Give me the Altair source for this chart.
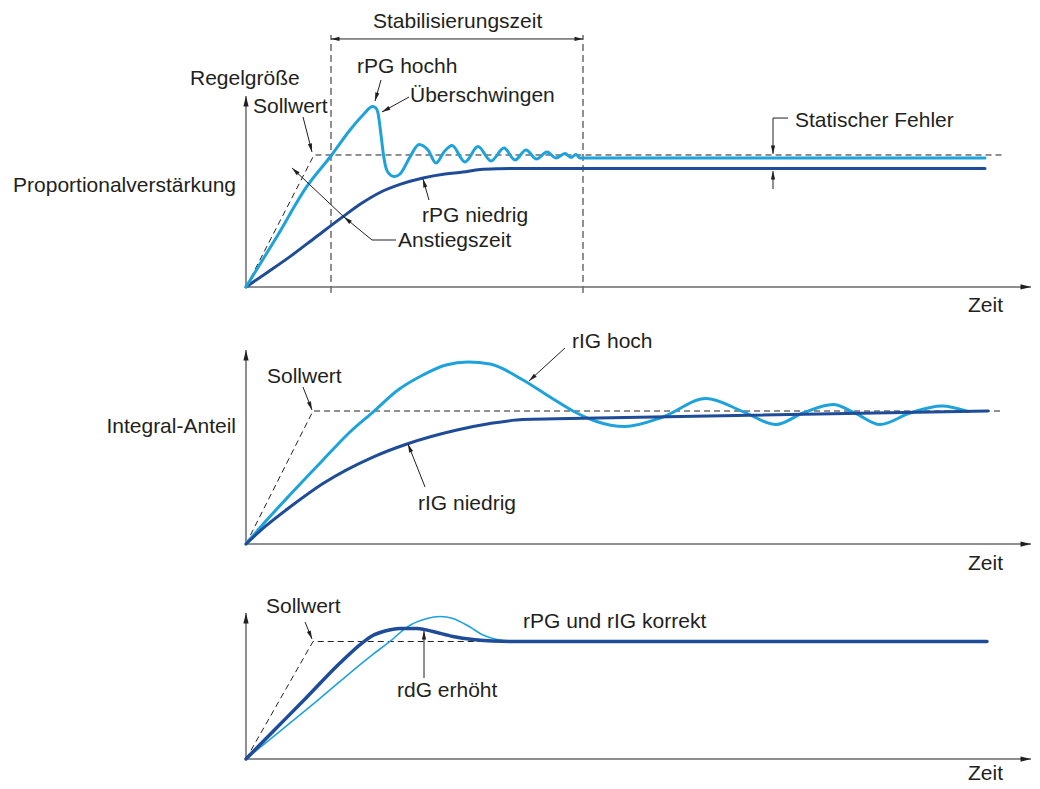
import math
import altair as alt
import pandas as pd

# ---------------- data (time: arbitrary units, value: % of setpoint) ----------------
# Panel 1 - Proportionalverstärkung
p1_high_t = [0, 3.07, 6.07, 8.57, 10.4, 11.7, 12.67, 13.0, 13.2, 13.5, 13.75, 14.07, 14.5, 14.9, 15.4,
             16.4, 17.3, 18.2, 19.0, 19.8, 20.6, 21.9, 23.2, 24.5, 25.8, 26.9, 28.0, 29.05, 30.1,
             31.0, 31.9, 32.5, 33.0, 33.4, 73.9]
p1_high_v = [0, 37.9, 76.0, 100, 118.9, 130.3, 136.7, 135.6, 131.8, 115.2, 100, 88.6, 84.5, 83.7, 85.6,
             98.5, 108, 103.8, 93.9, 102.3, 107.2, 94.7, 106.4, 95.5, 105.3, 96.2, 103.8, 97, 102.3,
             97.7, 101.1, 98.1, 100.4, 97.7, 97.7]
p1_low_t = [0, 2.2, 4.4, 7.0, 9.7, 11.6, 13.4, 15.4, 17.7, 19.9, 21.7, 23.4, 25.4, 27.4, 73.9]
p1_low_v = [0, 11.4, 23.0, 37.9, 53.3, 63.6, 71.6, 77.7, 82.6, 85.6, 87.1, 89.0, 89.6, 89.8, 89.8]
p1_set_t = [0, 6.8, 75.6]
p1_set_v = [0, 100, 100]
p1_stab_t = [8.5, 33.7]
p1_stab_v = [-4.5, 190.9]

# Panel 2 - Integral-Anteil
p2_high_t = [0, 1.9, 4.4, 7.7, 10.4, 12.7, 15.2, 17.7, 20.0, 22.2, 24.4, 27.7, 30.4, 32.7, 34.9,
             37.9, 41.7, 46.0, 49.7, 53.0, 55.7, 58.7, 60.9, 63.4, 66.4, 69.6, 72.2]
p2_high_v = [0, 16.5, 37.0, 63.2, 84.2, 99.2, 115.8, 127.1, 134.6, 136.8, 135.3, 123.3, 110.5, 100, 92.5,
             88.3, 95.5, 109.4, 99.6, 89.8, 98.5, 104.9, 98.5, 89.8, 98.5, 103.8, 99.6]
p2_low_t = [0, 1.9, 4.4, 7.7, 12.7, 16.1, 21.1, 24.4, 27.7, 31.0, 74.2]
p2_low_v = [0, 13.0, 27.8, 45.5, 65.4, 75.2, 85.7, 90.6, 93.6, 94.1, 100]
p2_set_t = [0, 6.7, 75.7]
p2_set_v = [0, 100, 100]

# Panel 3 - rdG erhöht
p3_light_t = [0, 7.2, 12.6, 14.4, 16.1, 18.1, 19.4, 20.7, 22.4, 23.7, 25.1, 26.4, 28.4, 74.1]
p3_light_v = [0, 50.2, 88.5, 100, 112.3, 119.6, 121.3, 119.6, 112.3, 105.5, 101.7, 100.4, 100, 100]
p3_dark_t = [0, 2.7, 6.1, 9.4, 11.6, 12.6, 13.9, 15.4, 17.1, 18.7, 20.7, 22.7, 24.7, 27.4, 74.1]
p3_dark_v = [0, 23.4, 52.8, 81.7, 98.7, 104.7, 108.9, 111.1, 111.1, 108.5, 104.3, 101.7, 100.4, 100, 100]
p3_set_t = [0, 6.7, 74.0]
p3_set_v = [0, 100, 100]

# axes (arrow tips)
p1_axis_top = 144.7
p2_axis_top = 145.9
p3_axis_top = 124.3
axis_right = 78.5

# annotation texts
p1_labels = ["Stabilisierungszeit", "Regelgröße", "Sollwert", "rPG hochh", "Überschwingen",
             "rPG niedrig", "Anstiegszeit", "Zeit", "Statischer Fehler"]
p1_label_t = [12.7, -5.6, 0.7, 11.1, 16.4, 17.6, 15.2, 72.2, 54.9]
p1_label_v = [196.2, 153.0, 131.8, 162.1, 140.2, 49.2, 30.3, -18.9, 121.2]
p1_side = ["Proportionalverstärkung"]
p1_side_t = [-1.0]
p1_side_v = [72.0]

p2_labels = ["Sollwert", "rIG hoch", "rIG niedrig", "Zeit"]
p2_label_t = [2.1, 32.6, 17.2, 72.2]
p2_label_v = [121.1, 147.4, 25.6, -19.5]
p2_side = ["Integral-Anteil"]
p2_side_t = [-1.0]
p2_side_v = [83.5]

p3_labels = ["Sollwert", "rPG und rIG korrekt", "rdG erhöht", "Zeit"]
p3_label_t = [2.0, 27.7, 15.1, 72.2]
p3_label_v = [124.3, 111.5, 52.8, -17.9]

# leader lines ending in an arrow head (start -> tip)
p1_arr_t1 = [5.7, 13.5, 16.3, 18.3, 12.6, 9.8, 21.1, 21.1, 52.7, 52.7]
p1_arr_v1 = [128.8, 156.8, 143.9, 65.9, 35.6, 53.0, 187.9, 187.9, 128.0, 74.2]
p1_arr_t2 = [6.6, 12.9, 13.6, 17.7, 9.8, 4.6, 8.5, 33.7, 52.7, 52.7]
p1_arr_v2 = [102.3, 140.9, 132.6, 81.8, 53.0, 90.2, 187.9, 187.9, 100.8, 87.9]
# plain leader lines
p1_seg_t1 = [15.0, 54.2]
p1_seg_v1 = [35.6, 128.0]
p1_seg_t2 = [12.6, 52.7]
p1_seg_v2 = [35.6, 128.0]

p2_arr_t1 = [5.7, 31.9, 17.9]
p2_arr_v1 = [118.0, 147.4, 42.9]
p2_arr_t2 = [6.6, 28.3, 16.2]
p2_arr_v2 = [100.8, 122.6, 75.2]

p3_arr_t1 = [5.9, 17.8]
p3_arr_v1 = [116.6, 68.9]
p3_arr_t2 = [6.6, 17.8]
p3_arr_v2 = [102.1, 108.9]

# ---------------- layout / style ----------------
W = 1024
XDOM = [-23.8, 78.6]
KX = W / (XDOM[1] - XDOM[0])
FONT = "Liberation Sans"
LIGHT = "#1ea2dc"
DARK = "#1f4c98"
INK = "#231f20"
AXISC = "#6a6a6a"
HEAD = "M0,0L0.5,2L-0.5,2Z"


def enc(xs, ys, xf="t", yf="v"):
    return dict(x=alt.X(f"{xf}:Q", scale=xs, axis=None), y=alt.Y(f"{yf}:Q", scale=ys, axis=None))


def curve(t, v, color, width, xs, ys, dash=None):
    df = pd.DataFrame({"t": t, "v": v, "o": list(range(len(t)))})
    kw = dict(color=color, strokeWidth=width, interpolate="monotone", strokeCap="round", strokeJoin="round")
    if dash:
        kw = dict(color=color, strokeWidth=width, strokeDash=dash, interpolate="linear")
    return alt.Chart(df).mark_line(**kw).encode(order="o:Q", **enc(xs, ys))


def segs(t1, v1, t2, v2, color, width, xs, ys, dash=None):
    df = pd.DataFrame({"t1": t1, "v1": v1, "t2": t2, "v2": v2})
    kw = dict(color=color, strokeWidth=width)
    if dash:
        kw["strokeDash"] = dash
    return alt.Chart(df).mark_rule(**kw).encode(x2="t2:Q", y2="v2:Q", **enc(xs, ys, "t1", "v1"))


def heads(t1, v1, t2, v2, size, ky, xs, ys):
    ang = [math.degrees(math.atan2((b - a) * KX, (d - c) * ky)) % 360
           for a, b, c, d in zip(t1, t2, v1, v2)]
    df = pd.DataFrame({"t": t2, "v": v2, "ang": ang})
    return alt.Chart(df).mark_point(shape=HEAD, filled=True, size=size, color=INK, opacity=1,
                                    strokeWidth=0).encode(angle=alt.Angle("ang:Q", scale=None), **enc(xs, ys))


def texts(labels, t, v, xs, ys, align="left"):
    df = pd.DataFrame({"label": labels, "t": t, "v": v})
    return alt.Chart(df).mark_text(align=align, baseline="alphabetic", font=FONT, fontSize=21,
                                   color=INK).encode(text="label:N", **enc(xs, ys))


def axes(top, ky, xs, ys):
    t1 = [0, 0]
    v1 = [0, 0]
    t2 = [0, axis_right]
    v2 = [top, 0]
    return [segs(t1, v1, t2, v2, AXISC, 1.5, xs, ys), heads(t1, v1, t2, v2, 110, ky, xs, ys)]


def panel(ydom, height, layers_fn):
    xs = alt.Scale(domain=XDOM, nice=False, zero=False)
    ys = alt.Scale(domain=ydom, nice=False, zero=False)
    ky = height / (ydom[1] - ydom[0])
    return alt.layer(*layers_fn(xs, ys, ky)).properties(width=W, height=height)


def p1_layers(xs, ys, ky):
    return [
        curve(p1_set_t, p1_set_v, INK, 1, xs, ys, dash=[6, 4]),
        segs(p1_stab_t, [p1_stab_v[0]] * 2, p1_stab_t, [p1_stab_v[1]] * 2, INK, 1, xs, ys, dash=[7, 4]),
        *axes(p1_axis_top, ky, xs, ys),
        curve(p1_low_t, p1_low_v, DARK, 3, xs, ys),
        curve(p1_high_t, p1_high_v, LIGHT, 3, xs, ys),
        segs(p1_seg_t1, p1_seg_v1, p1_seg_t2, p1_seg_v2, INK, 1, xs, ys),
        segs(p1_arr_t1, p1_arr_v1, p1_arr_t2, p1_arr_v2, INK, 1, xs, ys),
        heads(p1_arr_t1, p1_arr_v1, p1_arr_t2, p1_arr_v2, 72, ky, xs, ys),
        texts(p1_labels, p1_label_t, p1_label_v, xs, ys),
        texts(p1_side, p1_side_t, p1_side_v, xs, ys, align="right"),
    ]


def p2_layers(xs, ys, ky):
    return [
        curve(p2_set_t, p2_set_v, INK, 1, xs, ys, dash=[6, 4]),
        *axes(p2_axis_top, ky, xs, ys),
        curve(p2_high_t, p2_high_v, LIGHT, 3, xs, ys),
        curve(p2_low_t, p2_low_v, DARK, 3, xs, ys),
        segs(p2_arr_t1, p2_arr_v1, p2_arr_t2, p2_arr_v2, INK, 1, xs, ys),
        heads(p2_arr_t1, p2_arr_v1, p2_arr_t2, p2_arr_v2, 72, ky, xs, ys),
        texts(p2_labels, p2_label_t, p2_label_v, xs, ys),
        texts(p2_side, p2_side_t, p2_side_v, xs, ys, align="right"),
    ]


def p3_layers(xs, ys, ky):
    return [
        curve(p3_set_t, p3_set_v, INK, 1, xs, ys, dash=[6, 4]),
        *axes(p3_axis_top, ky, xs, ys),
        curve(p3_light_t, p3_light_v, LIGHT, 1.6, xs, ys),
        curve(p3_dark_t, p3_dark_v, DARK, 3.5, xs, ys),
        segs(p3_arr_t1, p3_arr_v1, p3_arr_t2, p3_arr_v2, INK, 1, xs, ys),
        heads(p3_arr_t1, p3_arr_v1, p3_arr_t2, p3_arr_v2, 72, ky, xs, ys),
        texts(p3_labels, p3_label_t, p3_label_v, xs, ys),
    ]


top = panel([-26.52, 211.36], 314, p1_layers)
mid = panel([-25.56, 166.92], 256, p2_layers)
bot = panel([-18.72, 154.04], 203, p3_layers)

chart = (
    alt.vconcat(top, mid, bot, spacing=0, bounds="flush")
    .resolve_scale(x="independent", y="independent")
    .properties(padding=0, background="white")
    .configure_view(strokeWidth=0)
)

chart.save("out.html", embed_options={"renderer": "svg", "actions": False})
